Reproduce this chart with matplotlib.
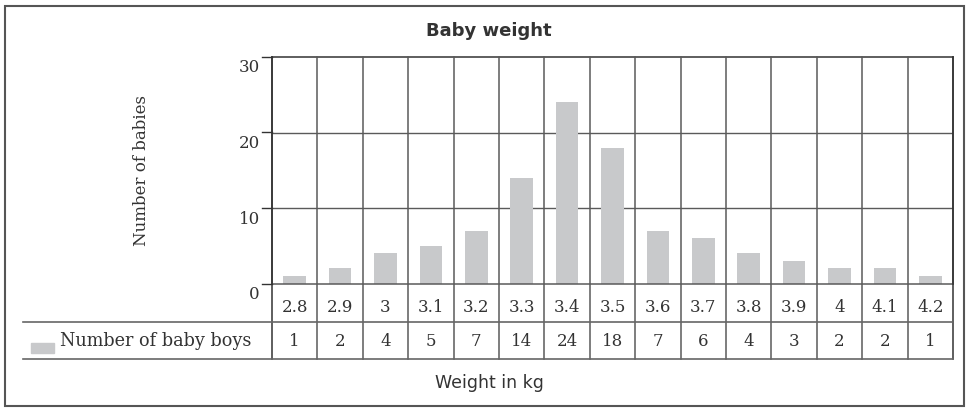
import matplotlib.pyplot as plt
from matplotlib.lines import Line2D
from matplotlib.patches import Rectangle
import matplotlib.transforms as mtrans

# data
weights = ['2.8', '2.9', '3', '3.1', '3.2', '3.3', '3.4', '3.5', '3.6', '3.7', '3.8', '3.9', '4', '4.1', '4.2']
boys = [1, 2, 4, 5, 7, 14, 24, 18, 7, 6, 4, 3, 2, 2, 1]
yticks = [0, 10, 20, 30]

W, H = 969, 411
fig = plt.figure(figsize=(W / 100, H / 100), dpi=100)

def fx(px):
    return px / W

def fy(py):
    return 1 - py / H

serif = 'DejaVu Serif'
sans = 'DejaVu Sans'
bar_col = '#c8c9cb'
grid_col = '#5a5a5a'
dark = '#333333'

# plot area in pixels
L, R, T, B = 272, 953, 57, 283.5
row1, row2 = 321.5, 359.3
tab_left = 23

ax = fig.add_axes([fx(L), fy(B), fx(R) - fx(L), fy(T) - fy(B)])
n = len(weights)
x = list(range(n))
ax.bar(x, boys, width=0.5, color=bar_col, zorder=2)
ax.set_xlim(-0.5, n - 0.5)
ax.set_ylim(0, 30)
ax.set_xticks([])
ax.set_yticks([])
for s in ax.spines.values():
    s.set_color(dark)
    s.set_linewidth(1.1)
ax.spines['bottom'].set_color(grid_col)
for v in yticks[1:-1]:
    ax.axhline(v, color=grid_col, lw=1.0, zorder=1)

# vertical separators through plot and table
xfig = mtrans.blended_transform_factory(ax.transData, fig.transFigure)
for i in range(n + 1):
    col = dark if i in (0, n) else grid_col
    fig.add_artist(Line2D([i - 0.5, i - 0.5], [fy(T), fy(row2)], transform=xfig,
                          color=col, lw=1.1))

# y ticks and labels
for v in yticks:
    yp = B - (B - T) * v / 30
    fig.add_artist(Line2D([fx(262), fx(L)], [fy(yp), fy(yp)], color=dark, lw=1.0))
    fig.text(fx(260), fy(yp + 11), str(v), ha='right', va='center',
             fontsize=12, family=serif, color='#333333')

# table rows
fig.add_artist(Line2D([fx(tab_left), fx(R)], [fy(row1), fy(row1)], color='#666666', lw=1.2))
fig.add_artist(Line2D([fx(tab_left), fx(R)], [fy(row2), fy(row2)], color='#666666', lw=1.2))
for i in range(n):
    fig.text(i, fy(308), weights[i], transform=xfig, ha='center', va='center',
             fontsize=12, family=serif, color='#333333')
    fig.text(i, fy(341), str(boys[i]), transform=xfig, ha='center', va='center',
             fontsize=12, family=serif, color='#333333')

# legend swatch
fig.add_artist(Rectangle((fx(31), fy(352.7)), fx(23), fy(342.7) - fy(352.7),
                         transform=fig.transFigure, color=bar_col))
fig.text(fx(60), fy(341), 'Number of baby boys', ha='left', va='center',
         fontsize=12.7, family=serif, color='#333333')

# titles
fig.text(fx(489), fy(31), 'Baby weight', ha='center', va='center',
         fontsize=13, family=sans, weight='bold', color='#333333')
fig.text(fx(489), fy(383), 'Weight in kg', ha='center', va='center',
         fontsize=12.5, family=sans, color='#333333')
fig.text(fx(142), fy(170), 'Number of babies', ha='center', va='center',
         rotation=90, fontsize=12, family=serif, color='#333333')

# outer frame
fig.add_artist(Rectangle((fx(5), fy(406)), fx(959), fy(6) - fy(406),
                         transform=fig.transFigure, fill=False,
                         edgecolor='#555555', lw=1.5))

fig.savefig('out.png', dpi=100)
